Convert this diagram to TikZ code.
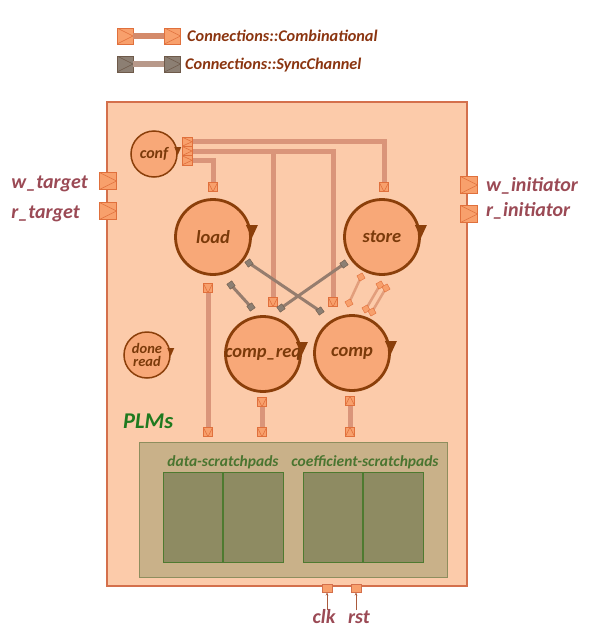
\documentclass[tikz,border=0pt]{standalone}
\usepackage{fontspec}
\setmainfont{Carlito}
\usetikzlibrary{calc,arrows.meta}
\definecolor{bg}{HTML}{FCCBAA}
\definecolor{mainbd}{HTML}{D4704C}
\definecolor{portfill}{HTML}{F8A06C}
\definecolor{portbd}{HTML}{E0703C}
\definecolor{conn}{HTML}{DA957A}
\definecolor{circfill}{HTML}{F8A878}
\definecolor{circbd}{HTML}{8B3F0A}
\definecolor{circtxt}{HTML}{7B3A0A}
\definecolor{legtxt}{HTML}{8B3510}
\definecolor{sidetxt}{HTML}{9B4A55}
\definecolor{syncfill}{HTML}{8C7F73}
\definecolor{syncbd}{HTML}{6E5A4A}
\definecolor{syncline}{HTML}{967D6E}
\definecolor{synclegline}{HTML}{B8998A}
\definecolor{legline}{HTML}{D48A6A}
\definecolor{plmfill}{HTML}{C9B189}
\definecolor{plmbd}{HTML}{8E8E5E}
\definecolor{innerfill}{HTML}{8E8B62}
\definecolor{innerbd}{HTML}{4E7A30}
\definecolor{greentxt}{HTML}{4A7530}
\definecolor{plmstxt}{HTML}{1F7A1F}
\definecolor{olink}{HTML}{E29E7C}
\tikzset{
  portbase/.style={draw=portbd, fill=portfill, line width=0.6pt, inner sep=0pt},
  portR/.style={portbase, path picture={\draw[portbd,line width=0.6pt] (path picture bounding box.north west) -- (path picture bounding box.east) -- (path picture bounding box.south west);}},
  portD/.style={portbase, path picture={\draw[portbd,line width=0.6pt] (path picture bounding box.north west) -- (path picture bounding box.south) -- (path picture bounding box.north east);}},
  portU/.style={portbase, path picture={\draw[portbd,line width=0.6pt] (path picture bounding box.south west) -- (path picture bounding box.north) -- (path picture bounding box.south east);}},
  syncport/.style={draw=syncbd, fill=syncfill, line width=0.6pt, inner sep=0pt, minimum size=16pt, path picture={\draw[syncbd,line width=0.6pt] (path picture bounding box.north west) -- (path picture bounding box.east) -- (path picture bounding box.south west);}},
  connline/.style={draw=conn, line width=5pt},
  proc/.style={circle, draw=circbd, fill=circfill, line width=2.8pt, inner sep=0pt},
  proctext/.style={text=circtxt, font=\bfseries\itshape\fontsize{18.5}{18.5}\selectfont, inner sep=0pt},
  sidelbl/.style={text=sidetxt, font=\bfseries\itshape\fontsize{20}{20}\selectfont, inner sep=0pt},
  legtext/.style={text=legtxt, font=\bfseries\itshape\fontsize{16.3}{16.3}\selectfont, inner sep=0pt},
  greenlbl/.style={text=greentxt, font=\bfseries\itshape\fontsize{15.5}{15.5}\selectfont, inner sep=0pt},
  syncend/.style={draw=syncbd, fill=syncfill, line width=0.4pt, minimum size=6pt, inner sep=0pt, rotate=35},
  orangeend/.style={draw=portbd, fill=portfill, line width=0.4pt, minimum size=6pt, inner sep=0pt, rotate=30},
  syncln/.style={draw=syncline, line width=3pt},
  olinkln/.style={draw=olink, line width=2.5pt},
}
\begin{document}
\begin{tikzpicture}[x=1pt,y=-1pt]
\useasboundingbox (0,0) rectangle (596,632);
\fill[white] (0,0) rectangle (596,632);

% legend
\node[portR, minimum size=16pt] (lg1a) at (125,36) {};
\node[portR, minimum size=16pt] (lg1b) at (172.5,36) {};
\draw[draw=legline, line width=6pt] (lg1a.east) -- (lg1b.west);
\node[legtext, anchor=base west] (lg1t) at (187,41) {Connections::Combinational};
\node[syncport] (lg2a) at (125,64) {};
\node[syncport] (lg2b) at (172.5,64) {};
\draw[draw=synclegline, line width=6pt] (lg2a.east) -- (lg2b.west);
\node[legtext, anchor=base west] (lg2t) at (185,69) {Connections::SyncChannel};

% main box
\draw[draw=mainbd, fill=bg, line width=1.2pt] (107,102) rectangle (467,586);

% PLM box
\draw[draw=plmbd, fill=plmfill, line width=0.8pt] (139,442) rectangle (447,577);
\draw[draw=innerbd, fill=innerfill, line width=0.8pt] (163,472) rectangle (283,562);
\draw[draw=innerbd, line width=1.3pt] (223,472) -- (223,562);
\draw[draw=innerbd, fill=innerfill, line width=0.8pt] (303,472) rectangle (423,562);
\draw[draw=innerbd, line width=1.3pt] (363,472) -- (363,562);
\node[greenlbl, anchor=base] (dsp) at (223,466) {data-scratchpads};
\node[greenlbl, anchor=base] (csp) at (365,466) {coefficient-scratchpads};
\node[text=plmstxt, font=\bfseries\itshape\fontsize{22.5}{22.5}\selectfont, inner sep=0pt, anchor=base west] (plms) at (123,428) {PLMs};

% port positions
\coordinate (c1) at (187,141.7);
\coordinate (c2) at (187,151);
\coordinate (c3) at (187,160.3);
\coordinate (ldin) at (213,187);
\coordinate (stin) at (384,187);
\coordinate (crin) at (273,302);
\coordinate (cpin) at (333,302);
\coordinate (ldout) at (208,288);
\coordinate (p1) at (208,432);
\coordinate (crout) at (262,402);
\coordinate (p2) at (262,432);
\coordinate (cpout) at (350,401);
\coordinate (p3) at (350,432);

% connections
\draw[connline] (c1) -| (stin);
\draw[connline] (c2) -| (cpin);
\draw[connline] (crin |- c2) -- (crin);
\draw[connline] (c3) -| (ldin);
\draw[connline] (ldout) -- (p1);
\draw[connline] (crout) -- (p2);
\draw[connline] (cpout) -- (p3);

% ports on top
\node[portR, minimum width=10pt, minimum height=9.3pt] (c1p) at (c1) {};
\node[portR, minimum width=10pt, minimum height=9.3pt] (c2p) at (c2) {};
\node[portR, minimum width=10pt, minimum height=9.3pt] (c3p) at (c3) {};
\node[portD, minimum size=9.5pt] (ldinp) at (ldin) {};
\node[portD, minimum size=9.5pt] (stinp) at (stin) {};
\node[portD, minimum size=9.5pt] (crinp) at (crin) {};
\node[portD, minimum size=9.5pt] (cpinp) at (cpin) {};
\node[portD, minimum size=9.5pt] (ldoutp) at (ldout) {};
\node[portD, minimum size=9.5pt] (p1p) at (p1) {};
\node[portD, minimum size=9.5pt] (croutp) at (crout) {};
\node[portD, minimum size=9.5pt] (p2p) at (p2) {};
\node[portU, minimum size=9.5pt] (cpoutp) at (cpout) {};
\node[portU, minimum size=9.5pt] (p3p) at (p3) {};

% side ports
\node[portR, minimum size=17pt] (wt) at (108,181) {};
\node[portR, minimum size=17pt] (rt) at (108,211) {};
\node[portR, minimum size=17pt] (wi) at (469,185) {};
\node[portR, minimum size=17pt] (ri) at (469,214) {};
\node[sidelbl, anchor=base east] (wtl) at (88,188) {w\_target};
\node[sidelbl, anchor=base east] (rtl) at (80,218) {r\_target};
\node[sidelbl, anchor=base west] (wil) at (486,191) {w\_initiator};
\node[sidelbl, anchor=base west] (ril) at (486,216) {r\_initiator};

% sync channel links
\coordinate (sa1) at (249,263); \coordinate (sa2) at (320,311);
\coordinate (sb1) at (344,264); \coordinate (sb2) at (281,308);
\coordinate (sc1) at (231,285); \coordinate (sc2) at (251,307);
\draw[syncln] (sa1) -- (sa2);
\draw[syncln] (sb1) -- (sb2);
\draw[syncln] (sc1) -- (sc2);
\foreach \p in {sa1,sa2,sb1,sb2,sc1,sc2} \node[syncend] (e\p) at (\p) {};

% orange links store -> comp
\coordinate (oa1) at (361,277); \coordinate (oa2) at (349,303);
\coordinate (ob1) at (380,285); \coordinate (ob2) at (366,309);
\coordinate (oc1) at (386,288); \coordinate (oc2) at (372,312);
\draw[olinkln] (oa1) -- (oa2);
\draw[olinkln] (ob1) -- (ob2);
\draw[olinkln] (oc1) -- (oc2);
\foreach \p in {oa1,oa2,ob1,ob2,oc1,oc2} \node[orangeend] (e\p) at (\p) {};

% processes
\node[proc, minimum size=75pt] (load) at (213,237) {};
\node[proc, minimum size=75pt] (store) at (382,237) {};
\node[proc, minimum size=75pt] (compreq) at (263,354) {};
\node[proc, minimum size=75pt] (comp) at (352,353) {};
\node[proc, line width=1.5pt, minimum size=46pt] (conf) at (154,154) {};
\node[proc, line width=1.5pt, minimum size=46pt] (done) at (147,355) {};
\node[proctext] (loadt) at (load) {load};
\node[proctext] (storet) at (store) {store};
\node[proctext] (compreqt) at (compreq) {comp\_req};
\node[proctext] (compt) at (comp) {comp};
\node[proctext, font=\bfseries\itshape\fontsize{16}{16}\selectfont] (conft) at (conf) {conf};
\node[proctext, font=\bfseries\itshape\fontsize{14.5}{14.5}\selectfont] (donet1) at (147,348.5) {done};
\node[proctext, font=\bfseries\itshape\fontsize{14.5}{14.5}\selectfont] (donet2) at (147,361.5) {read};
\foreach \n in {load,store,compreq,comp}
  \fill[circbd] ($(\n.east)+(-6,-12)$) -- ($(\n.east)+(6,-12)$) -- ($(\n.east)+(0,1)$) -- cycle;
\foreach \n in {conf,done}
  \fill[circbd] ($(\n.east)+(-3.5,-7)$) -- ($(\n.east)+(3.5,-7)$) -- ($(\n.east)+(0,1)$) -- cycle;

% clk / rst
\node[draw=mainbd, fill=portfill, line width=1pt, minimum width=10pt, minimum height=8pt, inner sep=0pt] (clkp) at (327,588) {};
\node[draw=mainbd, fill=portfill, line width=1pt, minimum width=10pt, minimum height=8pt, inner sep=0pt] (rstp) at (356,588) {};
\coordinate (clkc) at (327,610);
\coordinate (rstc) at (356,610);
\draw[draw=mainbd!80!black, line width=0.5pt, -{Stealth[length=3pt,width=2.5pt]}] (clkc) -- (clkp.south);
\draw[draw=mainbd!80!black, line width=0.5pt, -{Stealth[length=3pt,width=2.5pt]}] (rstc) -- (rstp.south);
\node[sidelbl, anchor=base] (clkl) at (324,623) {clk};
\node[sidelbl, anchor=base] (rstl) at (359,623) {rst};
\end{tikzpicture}
\end{document}
